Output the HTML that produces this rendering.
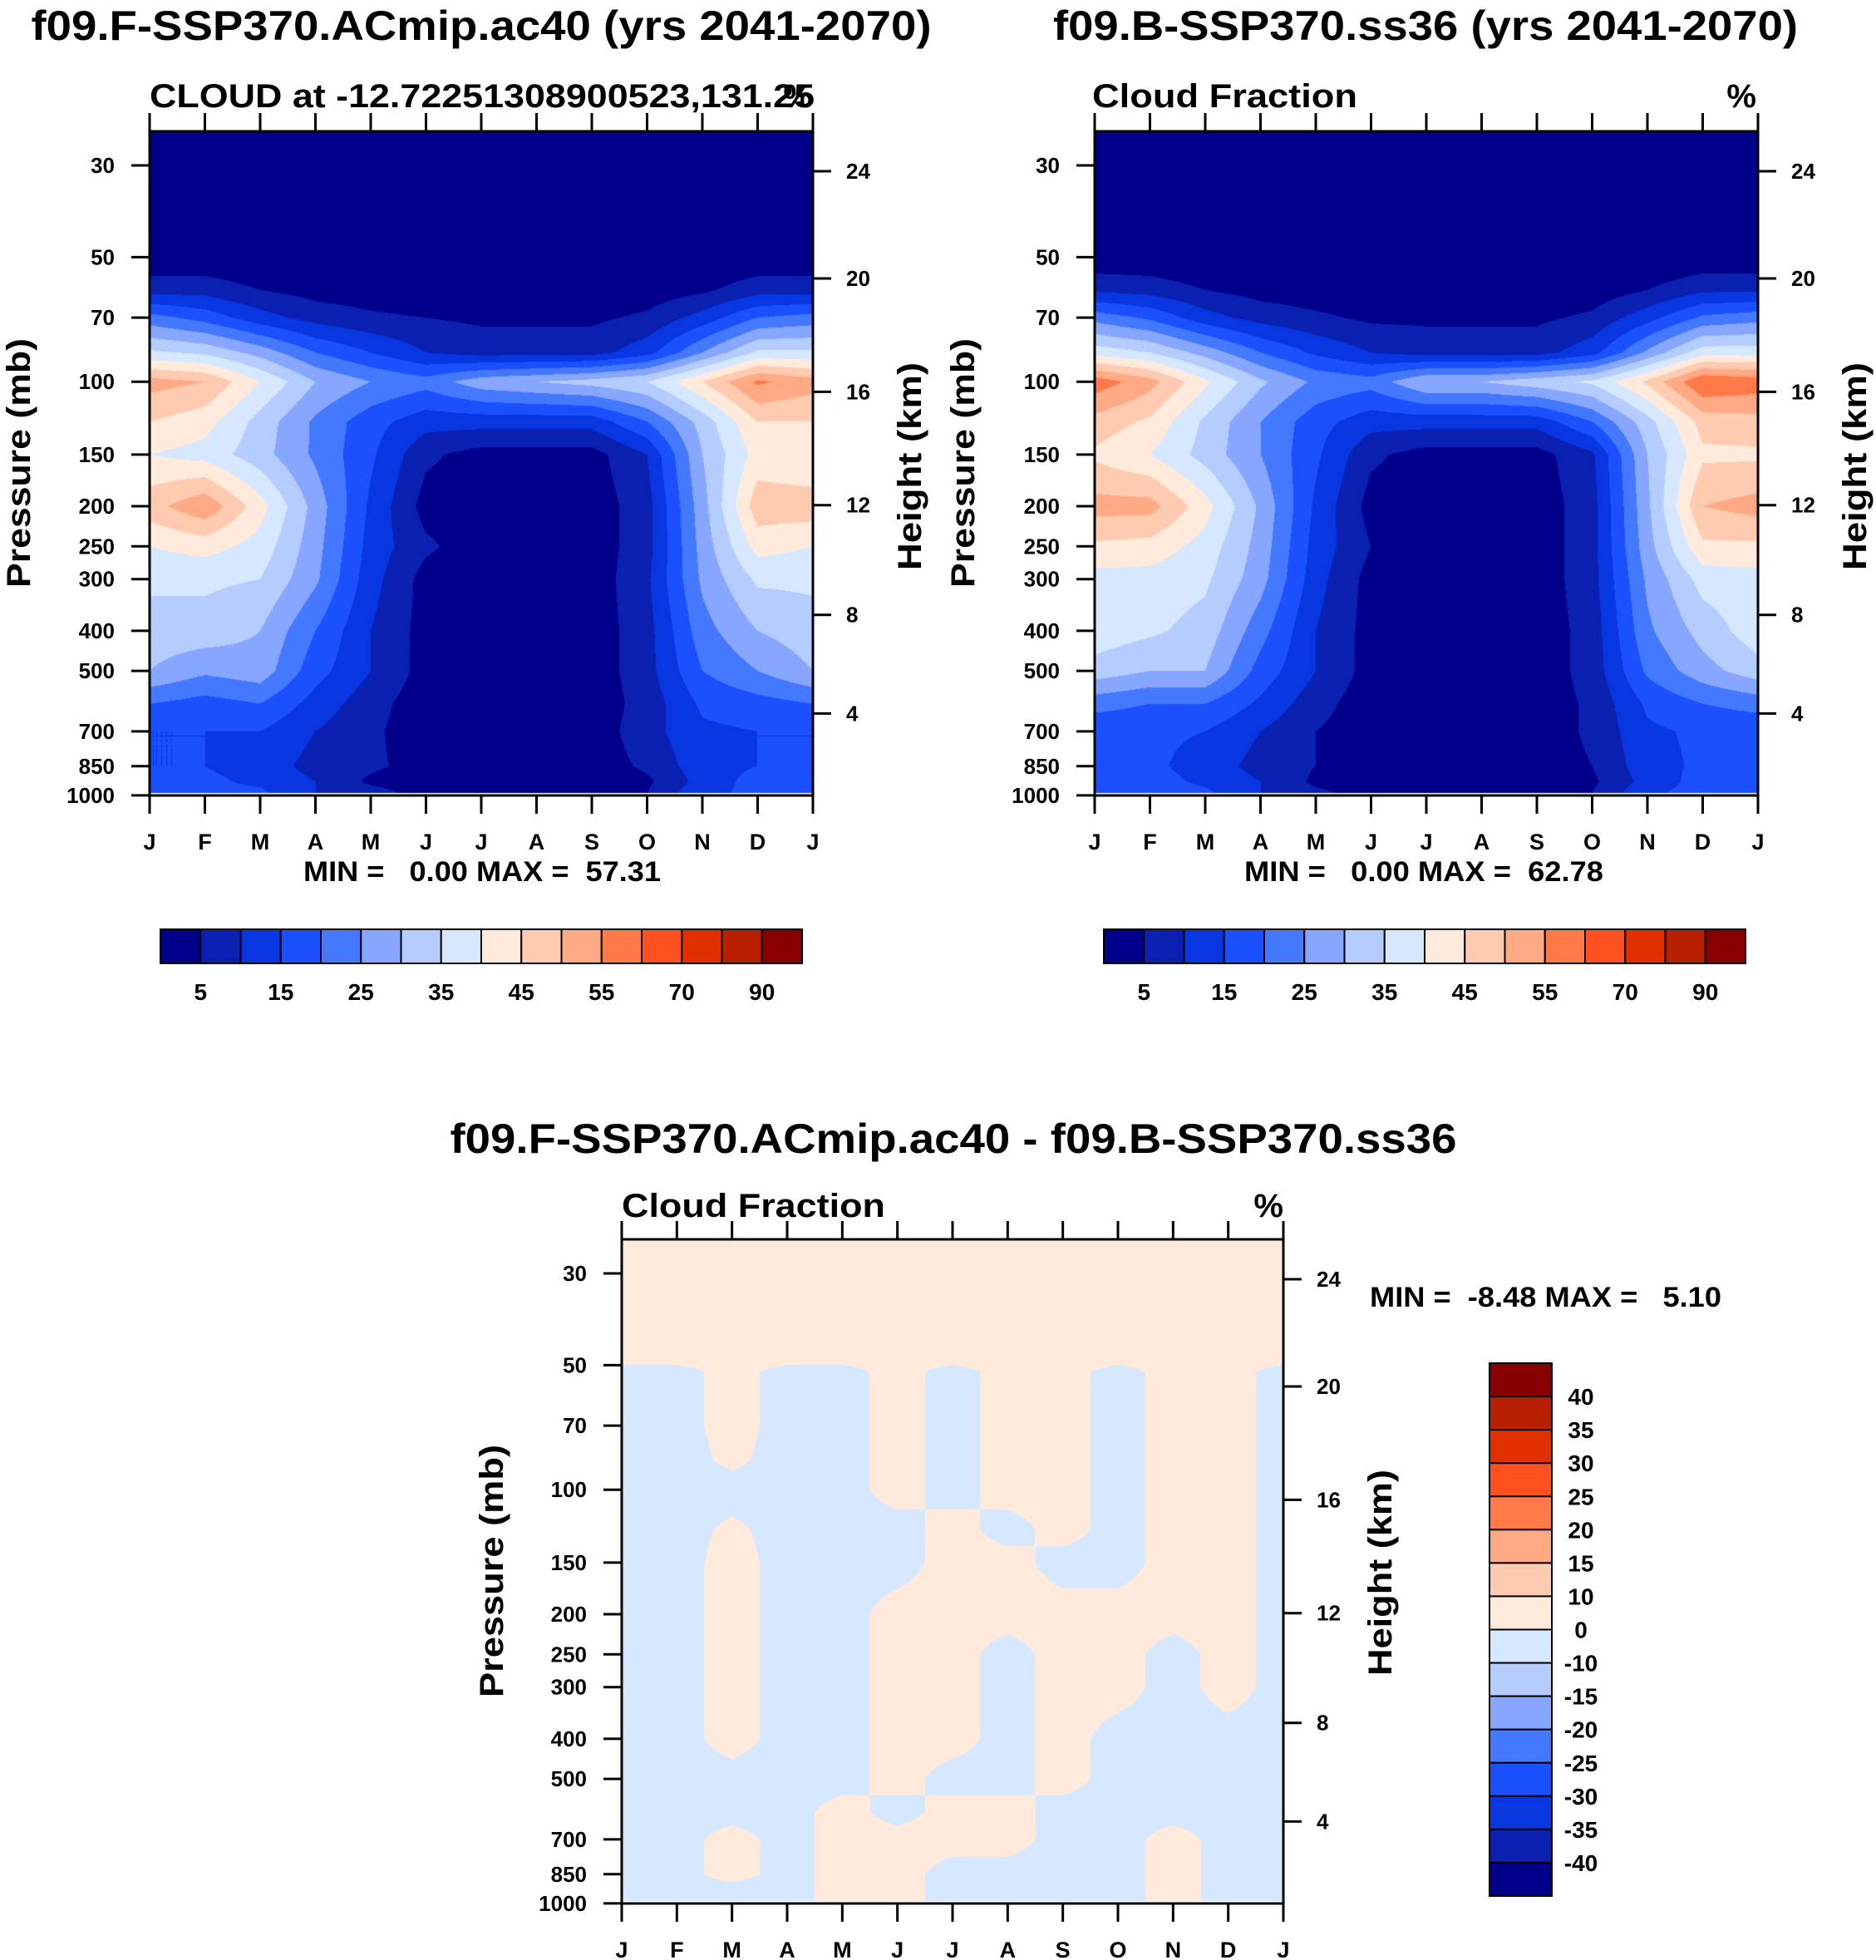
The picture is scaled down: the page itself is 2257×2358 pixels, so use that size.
<!DOCTYPE html>
<html><head><meta charset="utf-8">
<style>
html,body{margin:0;padding:0;background:#fff;}
#root{position:relative;width:2257px;height:2358px;overflow:hidden;}
canvas{position:absolute;}
svg{position:absolute;left:0;top:0;}
text{font-family:"Liberation Sans",sans-serif;font-weight:bold;fill:#000;white-space:pre;}
</style></head>
<body>
<div id="root">
<canvas id="cA" width="798" height="799" style="left:180px;top:158px"></canvas>
<canvas id="cB" width="798" height="799" style="left:1317px;top:158px"></canvas>
<canvas id="cD" width="796" height="799" style="left:748px;top:1491px"></canvas>
<svg id="ov" width="2257" height="2358"></svg>
</div>
<script>
// ---------- data ----------
const months = ["J","F","M","A","M","J","J","A","S","O","N","D","J"];
const levels = [30,50,60,70,85,100,125,150,200,250,300,400,500,600,700,850,925,985];
const diffPLevels = [30,48,52,60,70,85,100,125,150,200,250,300,400,500,600,700,850,925,985];
const pressureTicks = [30,50,70,100,150,200,250,300,400,500,700,850,1000];
const heightTicks = [4,8,12,16,20,24];
const seqLevels = [5,10,15,20,25,30,35,40,45,50,55,60,70,80,90];
const seqLabels = ["5","15","25","35","45","55","70","90"];
const diffLevels = [-40,-35,-30,-25,-20,-15,-10,0,10,15,20,25,30,35,40];
const diffLabels = ["40","35","30","25","20","15","10","0","-10","-15","-20","-25","-30","-35","-40"];
const colors = ["#00008a","#0a20b0","#0836e0","#1a50ff","#4478ff","#86a6ff","#b4ccff","#d6e8ff","#ffeadb","#ffcbb0","#ffa985","#ff7a48","#ff5020","#e03000","#b82000","#880000"];
const cloudA = [
[0,0,0,0,0,0,0,0,0,0,0,0],
[1,1,0,0,0,0,0,0,0,0,0,1],
[8,8,5,3,2,1,1,1,1,2,4,8],
[22,18,12,8,6,5,4,4,4,6,12,20],
[36,34,28,20,15,10,8,8,8,13,25,36],
[52,50,40,30,25,22,28,30,32,35,45,56],
[45,42,33,24,17,12,12,12,12,20,32,45],
[40,38,32,24,16,6,3,3,3,10,30,42],
[48,54,42,28,14,3,2,1,2,8,28,48],
[40,42,38,27,13,6,2,1,2,8,27,42],
[36,36,35,26,12,3,1,1,2,9,26,36],
[33,33,30,20,10,3,1,1,2,8,23,30],
[30,26,28,17,10,3,1,1,2,8,20,25],
[20,18,20,13,7,2,1,1,2,7,16,18],
[15,15,15,10,6,2,1,1,2,8,14,15],
[15,15,13,8,6,3,1,1,2,6,13,15],
[16,16,14,10,4,2,1,1,1,4,12,17],
[16,16,16,10,7,3,2,2,2,5,14,16]];
const cloudB = [
[0,0,0,0,0,0,0,0,0,0,0,0],
[1,1,0,0,0,0,0,0,0,0,0,1],
[9,8,5,3,2,1,1,1,1,2,5,9],
[23,19,12,8,6,4,4,4,4,6,13,21],
[38,35,28,20,14,10,8,8,8,13,26,38],
[58,52,41,31,24,22,30,30,33,36,46,60],
[48,44,34,25,17,12,12,12,12,20,33,47],
[44,40,33,25,16,6,3,3,3,9,30,44],
[52,52,42,29,14,3,2,1,2,8,29,50],
[44,43,38,28,13,5,2,1,2,8,28,44],
[38,38,36,27,12,3,1,1,2,8,26,37],
[38,36,33,22,10,3,1,1,2,7,24,32],
[33,30,30,18,10,3,1,1,2,7,21,28],
[22,20,20,14,7,2,1,1,2,6,16,20],
[16,16,15,10,5,2,1,1,2,6,14,16],
[16,16,13,8,5,2,1,1,2,5,13,16],
[17,17,14,10,4,2,1,1,1,4,12,17],
[17,17,16,10,6,3,2,2,2,5,14,17]];
const diffField = [
[1,1,1,1,1,1,1,1,1,1,1,1],
[1,1,1,1,1,1,1,1,1,1,1,1],
[-1,-1,1,-1,-1,1,-1,1,1,-1,1,1],
[-1,-1,1,-1,-1,1,-1,1,1,-1,1,1],
[-1,-1,1,-1,-1,1,-1,1,1,-1,1,1],
[-1,-1,0.5,-1,-1,1,-1,1,1,-1,1,1],
[-1,-1,-1,-1,-1,1,-1,1,1,-1,1,1],
[-1,-1,0.5,-1,-1,-1,1,-1,1,-1,1,1],
[-1,-1,1,-1,-1,-1,1,1,-1,-1,1,1],
[-1,-1,1,-1,-1,1,1,1,1,1,1,1],
[-1,-1,1,-1,-1,1,1,-1,1,1,-1,1],
[-1,-1,1,-1,-1,1,1,-1,1,1,-1,1],
[-1,-1,1,-1,-1,1,1,-1,1,-1,-1,-1],
[-1,-1,-1,-1,-1,1,-1,-1,1,-1,-1,-1],
[-1,-1,-1,-1,1,-1,1,1,-1,-1,-1,-1],
[-1,-1,1,-1,1,1,1,1,-1,-1,1,-1],
[-1,-1,1,-1,1,1,-1,-1,-1,-1,1,-1],
[-1,-1,-1,-1,1,1,-1,-1,-1,-1,1,-1],
[-1,-1,-1,-1,1,1,-1,-1,-1,-1,1,-1]];

// ---------- helpers ----------
const DEC = 497.7;
function yOfP(p, top){ return top + 41 + DEC*Math.log10(p/30); }
function pOfY(y, top){ return 30*Math.pow(10,(y-top-41)/DEC); }
function pOfZ(z){ z*=1000;
  if(z<=11000) return 1013.25*Math.pow(1-2.2558e-5*z,5.2559);
  if(z<=20000) return 226.32*Math.exp(-(z-11000)/6341.6);
  return 54.75*Math.pow(1+(z-20000)/216650,-34.163); }
function classify(v, lv){ let i=0; while(i<lv.length && v>=lv[i]) i++; return i; }
function hex(c){ return [parseInt(c.substr(1,2),16),parseInt(c.substr(3,2),16),parseInt(c.substr(5,2),16)]; }
const rgb = colors.map(hex);

function fill(canvasId, field, pl, lv, palette){
  const cv=document.getElementById(canvasId), ctx=cv.getContext('2d');
  const W=cv.width, H=cv.height, img=ctx.createImageData(W,H);
  const logL=pl.map(Math.log);
  for(let py=0;py<H;py++){
    const p=pOfY(py+0.5,0), lp=Math.log(p);
    let r0,r1,t;
    if(p>pl[pl.length-1]){ for(let px=0;px<W;px++){const k=(py*W+px)*4;img.data[k]=255;img.data[k+1]=255;img.data[k+2]=255;img.data[k+3]=255;} continue; }
    if(p<=pl[0]){r0=0;r1=0;t=0;}
    else { r0=0; while(logL[r0+1]<lp) r0++; r1=r0+1; t=(lp-logL[r0])/(logL[r1]-logL[r0]); }
    for(let px=0;px<W;px++){
      const m=(px+0.5)/W*12, c0=Math.floor(m)%12, c1=(c0+1)%12, s=m-Math.floor(m);
      const a=field[r0][c0]*(1-s)+field[r0][c1]*s, b=field[r1][c0]*(1-s)+field[r1][c1]*s;
      const v=a*(1-t)+b*t, col=palette[classify(v,lv)], k=(py*W+px)*4;
      img.data[k]=col[0];img.data[k+1]=col[1];img.data[k+2]=col[2];img.data[k+3]=255;
    }
  }
  ctx.putImageData(img,0,0);
}
fill('cA',cloudA,levels,seqLevels,rgb);
fill('cB',cloudB,levels,seqLevels,rgb);
fill('cD',diffField,diffPLevels,diffLevels,rgb);

// ---------- annotations ----------
const NS="http://www.w3.org/2000/svg", ov=document.getElementById('ov');
function el(tag, attrs, txt){ const e=document.createElementNS(NS,tag); for(const k in attrs) e.setAttribute(k,attrs[k]); if(txt!==undefined) e.textContent=txt; ov.appendChild(e); return e; }

function axes(L,T,W,H,tag){
  const R=L+W,B=T+H;
  const fr=el('rect',{x:L,y:T,width:W,height:H,fill:'none',stroke:'#000','stroke-width':3});
  
  
  months.forEach((m,i)=>{
    const x=L+i*W/12;
    const t1=el('line',{x1:x,y1:T,x2:x,y2:T-22,stroke:'#000','stroke-width':3});
    
    
    const t2=el('line',{x1:x,y1:B,x2:x,y2:B+22,stroke:'#000','stroke-width':3});
    
    
    const lb=el('text',{x:x,y:B+65,'font-size':27,'text-anchor':'middle'},m);
    
    
  });
  pressureTicks.forEach(p=>{
    const y=Math.min(yOfP(p,T),B);
    const t=el('line',{x1:L,y1:y,x2:L-22,y2:y,stroke:'#000','stroke-width':3});
    
    
    const lb=el('text',{x:L-42,y:y+9,'font-size':26,'text-anchor':'end'},String(p));
    
    
  });
  heightTicks.forEach(z=>{
    const y=yOfP(pOfZ(z),T)+6+(z===24?6:0);
    const t=el('line',{x1:R,y1:y,x2:R+22,y2:y,stroke:'#000','stroke-width':3});
    
    
    const lb=el('text',{x:R+40,y:y+9,'font-size':26},String(z));
    
    
  });
}
function txt(x,y,s,size,name,anchor,len,rot){
  const a={x:x,y:y,'font-size':size,'text-anchor':anchor||'start'};
  if(len){a.textLength=len;a.lengthAdjust='spacingAndGlyphs';}
  if(rot){a.transform='rotate(-90 '+x+' '+y+')';}
  const e=el('text',a,s);
  
  
  return e;
}
function hbar(L,T,W,H,labels,tag){
  const bw=W/16;
  colors.forEach((c,i)=>{
    const r=el('rect',{x:L+i*bw,y:T,width:bw,height:H,fill:c,stroke:'#000','stroke-width':2});
    
    
  });
  labels.forEach((s,j)=>{
    const x=L+(2*j+1)*bw;
    const e=el('text',{x:x,y:T+H+44,'font-size':28,'text-anchor':'middle'},s);
    
    
  });
}

// panel A
axes(180,158,798,799,'panel-a');
txt(579,48,"f09.F-SSP370.ACmip.ac40 (yrs 2041-2070)",50,'panel-a-title','middle',1083);
txt(180,129,"CLOUD at -12.72251308900523,131.25",40,'panel-a-subtitle','start',800);
txt(978,129,"%",40,'panel-a-units','end');
txt(36,557,"Pressure (mb)",40,'panel-a-y-axis-title','middle',300,true);
txt(1108,561,"Height (km)",40,'panel-a-height-axis-title','middle',250,true);
txt(580,1060,"MIN =   0.00 MAX =  57.31",34,'panel-a-min-max','middle',430);
hbar(193,1118,772,41,seqLabels,'panel-a-colorbar');

// panel B
axes(1317,158,798,799,'panel-b');
txt(1715,48,"f09.B-SSP370.ss36 (yrs 2041-2070)",50,'panel-b-title','middle',896);
txt(1314,129,"Cloud Fraction",40,'panel-b-subtitle','start',319);
txt(2113,129,"%",40,'panel-b-units','end');
txt(1172,557,"Pressure (mb)",40,'panel-b-y-axis-title','middle',300,true);
txt(2245,561,"Height (km)",40,'panel-b-height-axis-title','middle',250,true);
txt(1713,1060,"MIN =   0.00 MAX =  62.78",34,'panel-b-min-max','middle',432);
hbar(1328,1118,772,41,seqLabels,'panel-b-colorbar');

// diff panel
axes(748,1491,796,799,'panel-diff');
txt(1147,1387,"f09.F-SSP370.ACmip.ac40 - f09.B-SSP370.ss36",50,'panel-diff-title','middle',1211);
txt(748,1464,"Cloud Fraction",40,'panel-diff-subtitle','start',317);
txt(1544,1464,"%",40,'panel-diff-units','end');
txt(605,1890,"Pressure (mb)",40,'panel-diff-y-axis-title','middle',304,true);
txt(1674,1892,"Height (km)",40,'panel-diff-height-axis-title','middle',248,true);
txt(1648,1572,"MIN =  -8.48 MAX =   5.10",34,'panel-diff-min-max','start',423);
(function(){
  const L=1792,T=1640,W=75,H=641,bh=H/16;
  colors.slice().reverse().forEach((c,i)=>{
    const r=el('rect',{x:L,y:T+i*bh,width:W,height:bh,fill:c,stroke:'#000','stroke-width':2});
    
    
  });
  diffLabels.forEach((s,j)=>{
    const e=el('text',{x:1902,y:T+(j+1)*bh+10,'font-size':28,'text-anchor':'middle'},s);
    
    
  });
})();
</script>
</body></html>
